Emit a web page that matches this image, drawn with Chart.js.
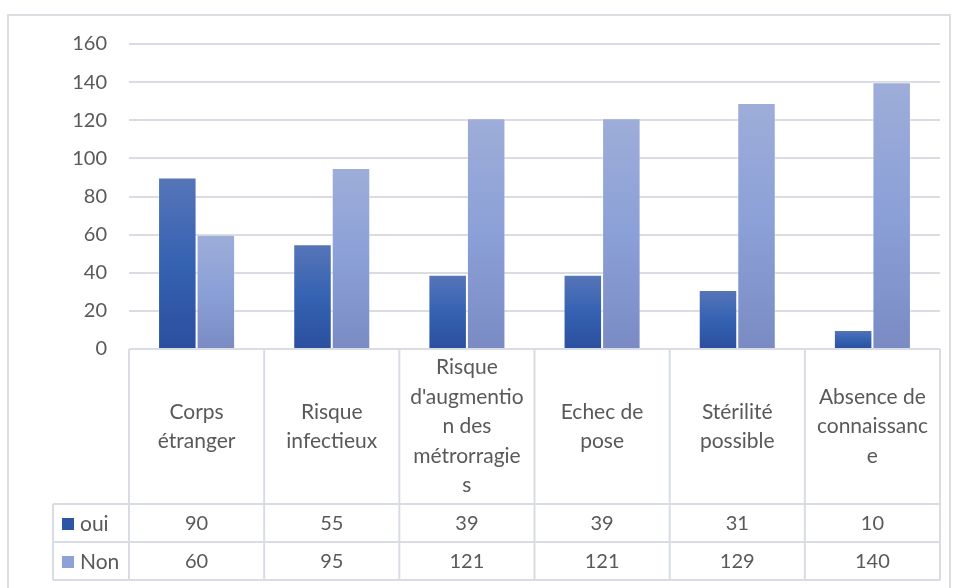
<!DOCTYPE html>
<html>
<head>
<meta charset="utf-8">
<script src="https://cdn.jsdelivr.net/npm/chart.js@4.4.1/dist/chart.umd.min.js"></script>
<style>
    html, body { margin: 0; padding: 0; background: #fff; }
    #wrap { width: 960px; height: 588px; }
</style>
</head>
<body>
<div id="wrap"><canvas id="chart" width="960" height="588"></canvas></div>
<script>
// categories, already broken into lines the way the table shows them
const categories = [
    ['Corps', 'étranger'],
    ['Risque', 'infectieux'],
    ['Risque', "d'augmentio", 'n des', 'métrorragie', 's'],
    ['Echec de', 'pose'],
    ['Stérilité', 'possible'],
    ['Absence de', 'connaissanc', 'e']
];
const ouiValues = [90, 55, 39, 39, 31, 10];
const nonValues = [60, 95, 121, 121, 129, 140];
const yTicks = [0, 20, 40, 60, 80, 100, 120, 140, 160];

const FONT = 'Lato, "Open Sans", sans-serif';
const TEXT = '#595959';
const LINE = '#d9dde3';

// per-bar vertical gradient, from the bar's top down to the zero line
function barGradient(stops) {
    return function (ctx) {
        const chart = ctx.chart;
        if (!chart.chartArea || ctx.raw === undefined) return stops[1];
        const y = chart.scales.y;
        const top = y.getPixelForValue(ctx.raw);
        const bottom = y.getPixelForValue(0);
        const g = chart.ctx.createLinearGradient(0, top, 0, bottom);
        g.addColorStop(0, stops[0]);
        g.addColorStop(0.5, stops[1]);
        g.addColorStop(1, stops[2]);
        return g;
    };
}

const ouiStops = ['#5775b8', '#3562b2', '#2b4f9e'];
const nonStops = ['#9eadd9', '#8ba0d7', '#7a8bc3'];

// data table drawn under the plot, columns follow the x scale
const dataTable = {
    id: 'dataTable',
    beforeDraw(chart) {
        const c = chart.ctx;
        c.save();
        c.strokeStyle = '#dadde2';
        c.lineWidth = 2;
        c.strokeRect(8, 15, 942, 600);
        c.restore();
    },
    afterDraw(chart) {
        const c = chart.ctx;
        const x = chart.scales.x;
        const area = chart.chartArea;
        const step = x.getPixelForValue(1) - x.getPixelForValue(0);
        const left = area.left, right = area.right;
        const headTop = area.bottom;
        const headBottom = 504;
        const rowH = 38;
        const legLeft = 53;
        const rows = [
            { name: 'oui', values: ouiValues, color: '#2c55a6' },
            { name: 'Non', values: nonValues, color: '#8fa2d7' }
        ];

        c.save();
        c.strokeStyle = LINE;
        c.lineWidth = 2;

        // horizontal lines
        c.beginPath();
        c.moveTo(left, headTop); c.lineTo(right, headTop);
        c.moveTo(legLeft, headBottom); c.lineTo(right, headBottom);
        c.moveTo(legLeft, headBottom + rowH); c.lineTo(right, headBottom + rowH);
        c.moveTo(legLeft, headBottom + 2 * rowH); c.lineTo(right, headBottom + 2 * rowH);
        // vertical lines
        for (let i = 0; i <= categories.length; i++) {
            const px = x.getPixelForValue(i) - step / 2;
            c.moveTo(px, headTop); c.lineTo(px, headBottom + 2 * rowH);
        }
        c.moveTo(legLeft, headBottom); c.lineTo(legLeft, headBottom + 2 * rowH);
        c.stroke();

        c.fillStyle = TEXT;
        c.font = '21px ' + FONT;
        c.textAlign = 'center';
        c.textBaseline = 'middle';

        // category headers
        const lh = 29.5;
        const mid = (headTop + headBottom) / 2;
        categories.forEach((lines, i) => {
            const cx = x.getPixelForValue(i);
            const start = mid - (lines.length - 1) * lh / 2;
            lines.forEach((t, j) => c.fillText(t, cx, start + j * lh));
        });

        // series rows
        c.font = '20px ' + FONT;
        rows.forEach((r, k) => {
            const cy = headBottom + rowH * k + rowH / 2 + 1;
            r.values.forEach((v, i) => {
                c.fillText(String(v), x.getPixelForValue(i), cy);
            });
            c.fillStyle = r.color;
            c.fillRect(62, cy - 6, 12, 12);
            c.fillStyle = TEXT;
            c.textAlign = 'left';
            c.font = '21px ' + FONT;
            c.fillText(r.name, 80, cy);
            c.font = '20px ' + FONT;
            c.textAlign = 'center';
        });
        c.restore();
    }
};

new Chart(document.getElementById('chart'), {
    type: 'bar',
    data: {
        labels: categories.map(l => l.join(' ')),
        datasets: [
            {
                label: 'oui',
                data: ouiValues,
                backgroundColor: barGradient(ouiStops),
                borderColor: 'rgba(255,255,255,0.25)',
                borderWidth: 1,
                barPercentage: 1,
                categoryPercentage: 0.57
            },
            {
                label: 'Non',
                data: nonValues,
                backgroundColor: barGradient(nonStops),
                borderColor: 'rgba(255,255,255,0.3)',
                borderWidth: 1,
                barPercentage: 1,
                categoryPercentage: 0.57
            }
        ]
    },
    options: {
        responsive: false,
        animation: false,
        layout: { padding: { top: 44, right: 20, bottom: 239, left: 0 } },
        plugins: {
            legend: { display: false },
            tooltip: { enabled: false }
        },
        scales: {
            x: {
                display: true,
                grid: { display: false, drawTicks: false },
                border: { display: false },
                ticks: { display: false }
            },
            y: {
                min: 0,
                max: 160,
                afterFit(scale) { scale.width = 129; },
                afterBuildTicks(scale) { scale.ticks = yTicks.map(v => ({ value: v })); },
                grid: { color: LINE, lineWidth: 2, drawTicks: false },
                border: { display: false },
                ticks: {
                    color: TEXT,
                    font: { family: FONT, size: 20 },
                    padding: 22
                }
            }
        }
    },
    plugins: [dataTable]
});
</script>
</body>
</html>
